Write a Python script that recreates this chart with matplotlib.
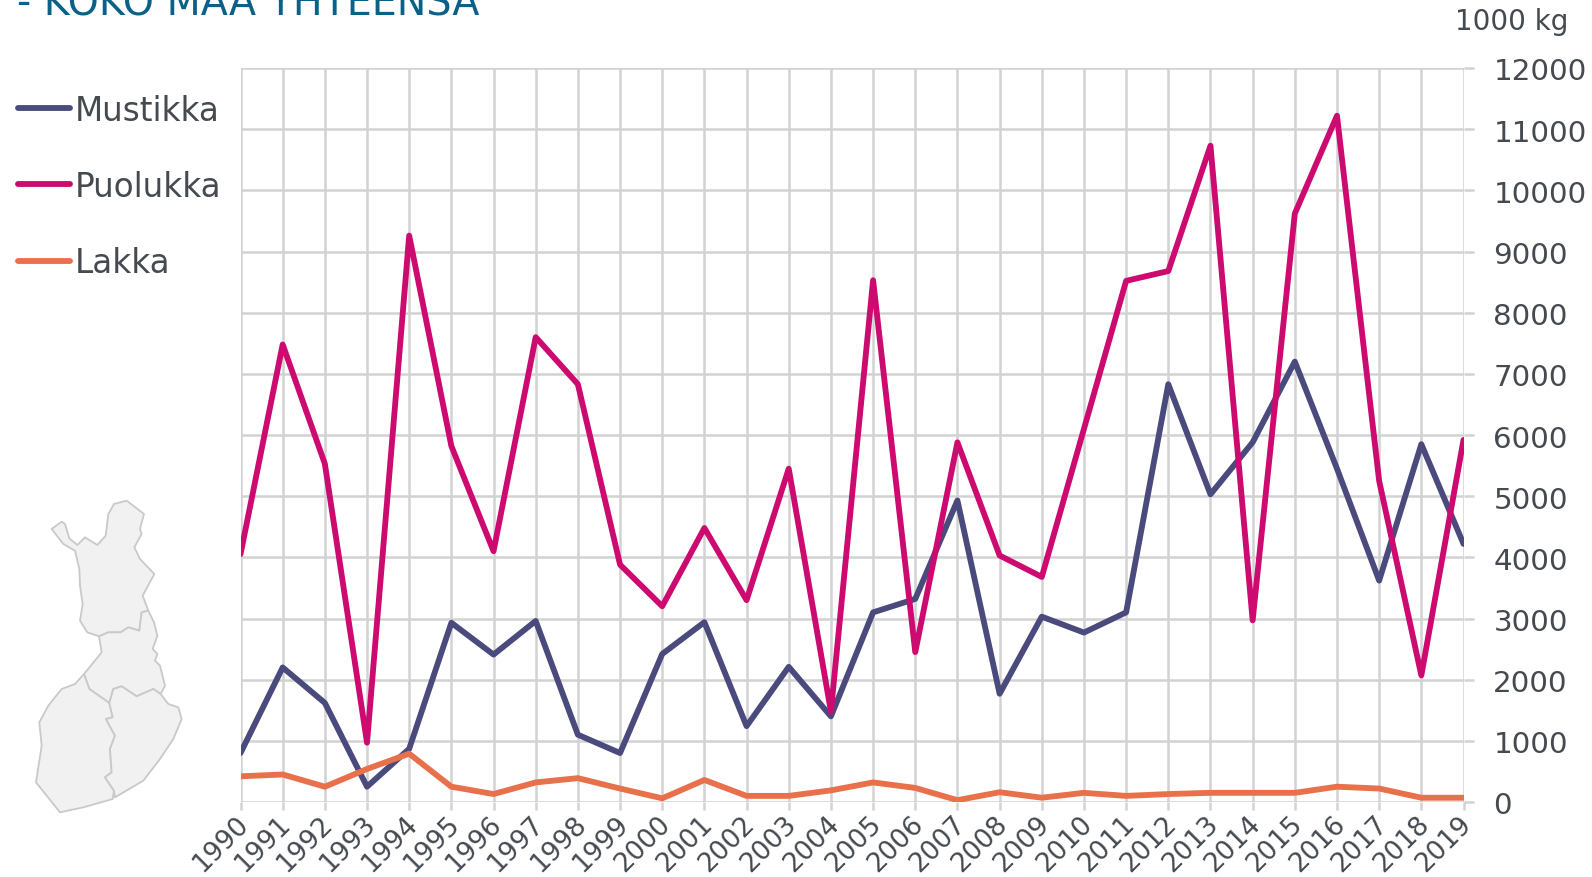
import matplotlib
matplotlib.use("Agg")
import matplotlib.pyplot as plt
from matplotlib.patches import Polygon
from matplotlib.transforms import ScaledTranslation

years = list(range(1990, 2020))
mustikka = [800, 2200, 1620, 250, 870, 2930, 2410, 2960, 1100, 800, 2420, 2940, 1240, 2210, 1400,
            3100, 3320, 4930, 1770, 3030, 2770, 3100, 6830, 5030, 5880, 7200, 5450, 3620, 5850, 4220]
puolukka = [4050, 7480, 5530, 970, 9260, 5820, 4100, 7600, 6830, 3880, 3200, 4480, 3300, 5450, 1480,
            8530, 2450, 5880, 4030, 3680, 6100, 8520, 8680, 10730, 2970, 9620, 11220, 5250, 2070, 5920]
lakka = [420, 450, 250, 540, 790, 250, 130, 320, 390, 220, 60, 360, 100, 100, 190,
         320, 230, 30, 160, 70, 150, 100, 130, 150, 150, 150, 250, 220, 70, 70]
series = [("Mustikka", mustikka, "#4a4a7d"), ("Puolukka", puolukka, "#cc0a70"), ("Lakka", lakka, "#e8704a")]
y_ticks = list(range(0, 13000, 1000))
title = "- KOKO MAA YHTEENSÄ"
unit = "1000 kg"

W, H = 1592, 878
fig = plt.figure(figsize=(W / 100, H / 100), dpi=100)
plt.rcParams["font.family"] = "DejaVu Sans"
TXT = "#444a50"
GRID = "#d2d2d2"

L, R, T, B = 240.5, 1463.5, 69, 803
ax = fig.add_axes([L / W, 1 - B / H, (R - L) / W, (B - T) / H])
ax.set_xlim(1990, 2019)
ax.set_ylim(0, 12000)
for s in ax.spines.values():
    s.set_visible(False)
ax.set_xticks(years)
ax.set_yticks(y_ticks)
ax.grid(True, color=GRID, lw=1.8, zorder=0)
ax.set_axisbelow(True)
ax.yaxis.tick_right()
ax.tick_params(axis="y", length=7.5, width=1.8, color=GRID, pad=14, labelsize=21.2, labelcolor=TXT)
ax.tick_params(axis="x", length=6, width=1.8, color=GRID, pad=0, labelsize=19, labelcolor=TXT)
down = ScaledTranslation(0, -0.5 / 100, fig.dpi_scale_trans)
for lbl in ax.get_yticklabels():
    lbl.set_ha("left")
    lbl.set_transform(lbl.get_transform() + down)
left = ScaledTranslation(-5 / 100, 0, fig.dpi_scale_trans)
for lbl in ax.get_xticklabels():
    lbl.set_rotation(45)
    lbl.set_ha("right")
    lbl.set_va("top")
    lbl.set_rotation_mode("anchor")
    lbl.set_transform(lbl.get_transform() + left)

for name, vals, col in series:
    ax.plot(years, vals, color=col, lw=4.2, solid_joinstyle="round", solid_capstyle="round",
            clip_on=True, zorder=3 if name != "Mustikka" else 2)

for (name, vals, col), py, base in zip(series, [108.5, 184.5, 262], [120.7, 196.7, 272.7]):
    fig.add_artist(plt.Line2D([18 / W, 70 / W], [1 - py / H] * 2, color=col, lw=4.2,
                              solid_capstyle="round"))
    fig.text(75 / W, 1 - base / H, name, fontsize=23.5, color=TXT, va="baseline", ha="left")

fig.text(17 / W, 1 - 14.5 / H, title, fontsize=28.5, color="#0a6188", va="baseline", ha="left")
fig.text(1568 / W, 1 - 30.5 / H, unit, fontsize=20, color=TXT, va="baseline", ha="right")

north = [(155,150),(185,128),(195,135),(208,178),(232,198),(255,175),(292,198),(317,170),(325,105),(342,75),(380,65),
         (432,105),(420,150),(425,165),(403,205),(420,240),(463,285),(428,350),(445,395),(425,400),(418,455),(385,445),
         (362,460),(325,460),(297,472),(262,460),(240,425),(248,375),(240,320),(238,270),(225,215),(190,195)]
middle = [(297,472),(325,460),(362,460),(385,445),(418,455),(425,400),(445,395),(462,430),(472,470),(458,510),(472,525),
          (465,545),(480,560),(495,620),(482,645),(460,630),(410,652),(365,622),(340,630),(328,672),(268,630),(252,585),(305,520)]
west = [(252,585),(268,630),(328,672),(338,715),(318,720),(345,770),(330,810),(335,880),(315,895),(342,935),(338,960),
        (250,985),(180,1000),(108,910),(125,800),(118,730),(145,680),(185,630),(225,615)]
east = [(328,672),(340,630),(365,622),(410,652),(460,630),(482,645),(505,675),(535,685),(545,720),(520,780),(480,840),
        (430,905),(345,955),(342,935),(315,895),(335,880),(330,810),(345,770),(318,720),(338,715)]
for poly in (north, middle, west, east):
    pts = [(x / 3 / W, 1 - (480 + y / 3) / H) for x, y in poly]
    fig.add_artist(Polygon(pts, closed=True, facecolor="#f1f1f1", edgecolor="#c9c9c9", lw=1.3,
                           transform=fig.transFigure, joinstyle="round"))

fig.savefig("out.png", dpi=100)
